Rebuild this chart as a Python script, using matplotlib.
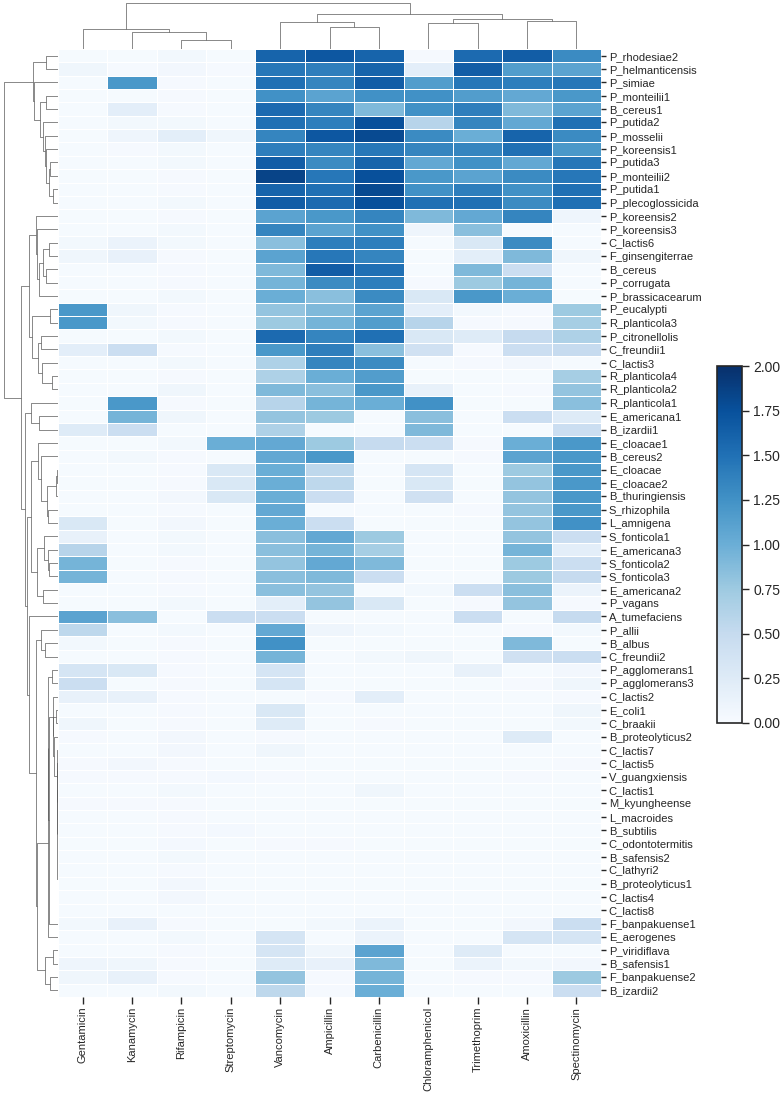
#!/usr/bin/env python3
# clustered heatmap of antibiotic response, drawn without scipy
import numpy as np
import matplotlib
matplotlib.use("Agg")
import matplotlib.pyplot as plt
from matplotlib.collections import LineCollection

plt.rcParams['font.family'] = ['Liberation Sans', 'DejaVu Sans']

antibiotics = ["Gentamicin", "Kanamycin", "Rifampicin", "Streptomycin", "Vancomycin",
               "Ampicillin", "Carbenicillin", "Chloramphenicol", "Trimethoprim",
               "Amoxicillin", "Spectinomycin"]

strains = ["P_rhodesiae2", "P_helmanticensis", "P_simiae", "P_monteilii1", "B_cereus1",
           "P_putida2", "P_mosselii", "P_koreensis1", "P_putida3", "P_monteilii2",
           "P_putida1", "P_plecoglossicida", "P_koreensis2", "P_koreensis3", "C_lactis6",
           "F_ginsengiterrae", "B_cereus", "P_corrugata", "P_brassicacearum", "P_eucalypti",
           "R_planticola3", "P_citronellolis", "C_freundii1", "C_lactis3", "R_planticola4",
           "R_planticola2", "R_planticola1", "E_americana1", "B_izardii1", "E_cloacae1",
           "B_cereus2", "E_cloacae", "E_cloacae2", "B_thuringiensis", "S_rhizophila",
           "L_amnigena", "S_fonticola1", "E_americana3", "S_fonticola2", "S_fonticola3",
           "E_americana2", "P_vagans", "A_tumefaciens", "P_allii", "B_albus",
           "C_freundii2", "P_agglomerans1", "P_agglomerans3", "C_lactis2", "E_coli1",
           "C_braakii", "B_proteolyticus2", "C_lactis7", "C_lactis5", "V_guangxiensis",
           "C_lactis1", "M_kyungheense", "L_macroides", "B_subtilis", "C_odontotermitis",
           "B_safensis2", "C_lathyri2", "B_proteolyticus1", "C_lactis4", "C_lactis8",
           "F_banpakuense1", "E_aerogenes", "P_viridiflava", "B_safensis1", "F_banpakuense2",
           "B_izardii2"]

# one row per strain, columns follow antibiotics
values = [
    [0.02, 0.02, 0.05, 0.02, 1.60, 1.70, 1.60, 0.03, 1.55, 1.65, 1.30],
    [0.08, 0.03, 0.06, 0.03, 1.45, 1.40, 1.60, 0.20, 1.65, 1.15, 1.10],
    [0.02, 1.20, 0.03, 0.02, 1.50, 1.35, 1.65, 1.15, 1.45, 1.40, 1.45],
    [0.02, 0.02, 0.03, 0.02, 1.25, 1.10, 1.25, 1.25, 1.15, 1.05, 1.20],
    [0.02, 0.20, 0.03, 0.02, 1.55, 1.35, 0.90, 1.25, 1.40, 0.90, 1.10],
    [0.02, 0.05, 0.05, 0.02, 1.50, 1.40, 1.75, 0.60, 1.35, 1.05, 1.50],
    [0.02, 0.10, 0.20, 0.08, 1.35, 1.70, 1.80, 1.30, 1.00, 1.60, 1.30],
    [0.02, 0.03, 0.05, 0.02, 1.40, 1.35, 1.45, 1.35, 1.35, 1.50, 1.20],
    [0.02, 0.02, 0.05, 0.02, 1.65, 1.30, 1.60, 1.05, 1.25, 1.05, 1.45],
    [0.02, 0.02, 0.03, 0.02, 1.85, 1.45, 1.75, 1.20, 1.10, 1.30, 1.45],
    [0.02, 0.02, 0.03, 0.02, 1.60, 1.50, 1.80, 1.25, 1.40, 1.25, 1.50],
    [0.02, 0.02, 0.05, 0.02, 1.65, 1.55, 1.75, 1.50, 1.50, 1.30, 1.50],
    [0.02, 0.02, 0.03, 0.02, 1.10, 1.20, 1.35, 0.90, 1.05, 1.35, 0.10],
    [0.02, 0.02, 0.05, 0.02, 1.35, 1.10, 1.25, 0.10, 0.85, 0.02, 0.02],
    [0.05, 0.12, 0.05, 0.02, 0.85, 1.40, 1.40, 0.02, 0.30, 1.30, 0.02],
    [0.08, 0.15, 0.03, 0.02, 1.10, 1.45, 1.35, 0.02, 0.20, 0.90, 0.08],
    [0.02, 0.02, 0.03, 0.02, 0.90, 1.65, 1.50, 0.02, 0.90, 0.45, 0.02],
    [0.02, 0.02, 0.03, 0.02, 0.95, 1.30, 1.40, 0.03, 0.75, 0.95, 0.02],
    [0.02, 0.02, 0.05, 0.02, 1.00, 0.85, 1.30, 0.30, 1.20, 1.00, 0.02],
    [1.20, 0.08, 0.03, 0.02, 0.80, 0.90, 1.10, 0.20, 0.05, 0.03, 0.75],
    [1.20, 0.05, 0.03, 0.02, 0.75, 0.95, 1.15, 0.60, 0.03, 0.03, 0.70],
    [0.02, 0.02, 0.05, 0.02, 1.55, 1.35, 1.50, 0.30, 0.25, 0.50, 0.65],
    [0.20, 0.45, 0.03, 0.02, 1.20, 1.40, 0.85, 0.40, 0.03, 0.45, 0.50],
    [0.02, 0.02, 0.05, 0.02, 0.65, 1.35, 1.30, 0.02, 0.03, 0.06, 0.02],
    [0.02, 0.02, 0.03, 0.02, 0.65, 1.00, 1.15, 0.02, 0.02, 0.02, 0.70],
    [0.02, 0.02, 0.08, 0.02, 0.90, 0.85, 1.20, 0.15, 0.02, 0.03, 0.80],
    [0.02, 1.20, 0.03, 0.02, 0.60, 0.95, 1.00, 1.25, 0.02, 0.02, 0.85],
    [0.02, 0.95, 0.08, 0.02, 0.80, 0.75, 0.02, 0.85, 0.02, 0.45, 0.25],
    [0.25, 0.45, 0.02, 0.02, 0.65, 0.02, 0.02, 0.90, 0.02, 0.02, 0.45],
    [0.02, 0.02, 0.05, 1.00, 1.05, 0.75, 0.50, 0.45, 0.03, 1.00, 1.20],
    [0.02, 0.05, 0.03, 0.02, 1.05, 1.20, 0.02, 0.02, 0.03, 1.10, 1.20],
    [0.02, 0.02, 0.03, 0.30, 1.00, 0.55, 0.02, 0.35, 0.02, 0.75, 1.20],
    [0.02, 0.02, 0.03, 0.30, 1.00, 0.55, 0.02, 0.30, 0.02, 0.80, 1.20],
    [0.02, 0.02, 0.06, 0.30, 1.00, 0.45, 0.02, 0.40, 0.02, 0.80, 1.20],
    [0.02, 0.02, 0.03, 0.02, 1.05, 0.02, 0.02, 0.02, 0.03, 0.80, 1.20],
    [0.30, 0.02, 0.06, 0.02, 1.00, 0.45, 0.02, 0.02, 0.02, 0.80, 1.25],
    [0.15, 0.02, 0.05, 0.02, 0.85, 1.05, 0.75, 0.02, 0.02, 0.80, 0.45],
    [0.60, 0.02, 0.05, 0.02, 0.85, 0.95, 0.70, 0.02, 0.02, 0.95, 0.20],
    [0.95, 0.02, 0.03, 0.02, 0.80, 1.05, 0.90, 0.02, 0.02, 0.75, 0.45],
    [0.95, 0.02, 0.03, 0.02, 0.85, 0.90, 0.45, 0.02, 0.02, 0.75, 0.50],
    [0.02, 0.02, 0.03, 0.02, 0.85, 0.80, 0.02, 0.05, 0.45, 0.85, 0.12],
    [0.02, 0.02, 0.05, 0.02, 0.20, 0.80, 0.30, 0.02, 0.03, 0.80, 0.03],
    [1.10, 0.85, 0.02, 0.45, 0.45, 0.02, 0.02, 0.02, 0.45, 0.02, 0.50],
    [0.55, 0.02, 0.05, 0.02, 1.05, 0.10, 0.05, 0.02, 0.02, 0.03, 0.05],
    [0.05, 0.02, 0.03, 0.02, 1.25, 0.02, 0.02, 0.02, 0.02, 0.90, 0.02],
    [0.02, 0.02, 0.03, 0.02, 0.95, 0.02, 0.05, 0.08, 0.02, 0.40, 0.45],
    [0.35, 0.30, 0.03, 0.02, 0.35, 0.02, 0.02, 0.02, 0.15, 0.02, 0.06],
    [0.45, 0.02, 0.03, 0.02, 0.35, 0.02, 0.02, 0.02, 0.02, 0.03, 0.08],
    [0.15, 0.15, 0.03, 0.02, 0.02, 0.03, 0.20, 0.02, 0.02, 0.02, 0.03],
    [0.02, 0.02, 0.03, 0.02, 0.30, 0.02, 0.02, 0.02, 0.02, 0.02, 0.08],
    [0.08, 0.02, 0.03, 0.02, 0.25, 0.02, 0.03, 0.02, 0.02, 0.02, 0.05],
    [0.03, 0.02, 0.06, 0.02, 0.03, 0.02, 0.02, 0.02, 0.02, 0.25, 0.02],
    [0.02, 0.02, 0.06, 0.02, 0.08, 0.02, 0.02, 0.02, 0.02, 0.02, 0.02],
    [0.03, 0.06, 0.03, 0.02, 0.02, 0.02, 0.02, 0.02, 0.02, 0.02, 0.03],
    [0.03, 0.03, 0.03, 0.04, 0.03, 0.02, 0.02, 0.02, 0.02, 0.03, 0.02],
    [0.02, 0.02, 0.05, 0.02, 0.02, 0.02, 0.08, 0.02, 0.02, 0.02, 0.02],
    [0.03, 0.03, 0.03, 0.02, 0.02, 0.02, 0.02, 0.02, 0.02, 0.02, 0.02],
    [0.02, 0.02, 0.03, 0.02, 0.02, 0.02, 0.02, 0.02, 0.02, 0.02, 0.02],
    [0.02, 0.02, 0.03, 0.04, 0.02, 0.02, 0.02, 0.02, 0.02, 0.02, 0.02],
    [0.02, 0.02, 0.04, 0.02, 0.03, 0.03, 0.02, 0.02, 0.02, 0.02, 0.02],
    [0.02, 0.02, 0.05, 0.02, 0.02, 0.02, 0.02, 0.02, 0.02, 0.02, 0.02],
    [0.02, 0.02, 0.03, 0.02, 0.02, 0.02, 0.02, 0.02, 0.02, 0.02, 0.02],
    [0.02, 0.02, 0.06, 0.02, 0.02, 0.02, 0.02, 0.02, 0.02, 0.02, 0.02],
    [0.02, 0.02, 0.06, 0.02, 0.02, 0.02, 0.02, 0.02, 0.02, 0.02, 0.02],
    [0.02, 0.02, 0.02, 0.02, 0.02, 0.02, 0.02, 0.02, 0.02, 0.02, 0.02],
    [0.05, 0.15, 0.03, 0.02, 0.02, 0.05, 0.12, 0.02, 0.02, 0.06, 0.45],
    [0.02, 0.02, 0.05, 0.02, 0.35, 0.02, 0.12, 0.02, 0.02, 0.35, 0.35],
    [0.02, 0.02, 0.03, 0.02, 0.35, 0.08, 1.10, 0.02, 0.25, 0.02, 0.02],
    [0.10, 0.08, 0.03, 0.02, 0.25, 0.15, 0.90, 0.02, 0.12, 0.05, 0.06],
    [0.08, 0.15, 0.03, 0.02, 0.80, 0.03, 0.95, 0.02, 0.03, 0.03, 0.75],
    [0.02, 0.02, 0.05, 0.02, 0.55, 0.03, 1.00, 0.02, 0.02, 0.02, 0.45],
]
data = np.array(values)


def ordered_linkage(X):
    # average linkage (euclidean) where only neighbours in the shown order may merge
    n = len(X)
    D = np.sqrt(((X[:, None, :] - X[None, :, :]) ** 2).sum(-1))
    clusters = [([i], i + 0.5, 0.0) for i in range(n)]
    segs = []
    while len(clusters) > 1:
        dists = [D[np.ix_(clusters[k][0], clusters[k + 1][0])].mean()
                 for k in range(len(clusters) - 1)]
        k = int(np.argmin(dists))
        (ma, pa, ha), (mb, pb, hb) = clusters[k], clusters[k + 1]
        h = max(dists[k], ha, hb)
        segs.append([(pa, ha), (pa, h), (pb, h), (pb, hb)])
        clusters[k:k + 2] = [(ma + mb, (pa + pb) / 2, h)]
    return segs, clusters[0][2]


W, H = 780, 1096
fig = plt.figure(figsize=(W / 100, H / 100), dpi=100)

hm_l, hm_r, hm_t, hm_b = 58, 601, 49, 997
ax = fig.add_axes([hm_l / W, 1 - hm_b / H, (hm_r - hm_l) / W, (hm_b - hm_t) / H])
ax_row = fig.add_axes([0.002, 1 - hm_b / H, hm_l / W - 0.002, (hm_b - hm_t) / H])
ax_col = fig.add_axes([hm_l / W, 1 - hm_t / H, (hm_r - hm_l) / W, (hm_t - 1) / H])
cax = fig.add_axes([717 / W, 1 - 723 / H, 25 / W, 357 / H])

nr, nc = data.shape
mesh = ax.pcolormesh(np.arange(nc + 1), np.arange(nr + 1), data, cmap="Blues",
                     vmin=0, vmax=2, edgecolors="white", linewidth=0.5)
ax.set_xlim(0, nc)
ax.set_ylim(nr, 0)
for s in ax.spines.values():
    s.set_visible(False)
ax.yaxis.tick_right()
ax.set_yticks(np.arange(nr) + 0.5)
ax.set_yticklabels(strains, fontsize=8, color=".15")
ax.set_xticks(np.arange(nc) + 0.5)
ax.set_xticklabels(antibiotics, fontsize=8, rotation=90, color=".15")
ax.tick_params(axis="y", length=3.5, width=1, color=".15", pad=2)
ax.tick_params(axis="x", length=5, width=1, color=".15", pad=2)

# row dendrogram, root on the left
segs, top = ordered_linkage(data)
lines = [[(h, p) for p, h in s] for s in segs]
ax_row.add_collection(LineCollection(lines, linewidths=0.5, colors=[(.35, .35, .35)]))
ax_row.set_ylim(nr, 0)
ax_row.set_xlim(top * 1.05, 0)
ax_row.axis("off")

# column dendrogram, root on top
segs, top = ordered_linkage(data.T)
ax_col.add_collection(LineCollection(segs, linewidths=0.5, colors=[(.35, .35, .35)]))
ax_col.set_xlim(0, nc)
ax_col.set_ylim(0, top * 1.05)
ax_col.axis("off")

cb = fig.colorbar(mesh, cax=cax, ticks=np.arange(0, 2.01, 0.25), format="%.2f")
cb.outline.set_linewidth(1.2)
cb.outline.set_edgecolor(".15")
cax.tick_params(labelsize=10, length=5, width=1, color=".15", labelcolor=".15", pad=3)

fig.savefig("out.png", dpi=100)
